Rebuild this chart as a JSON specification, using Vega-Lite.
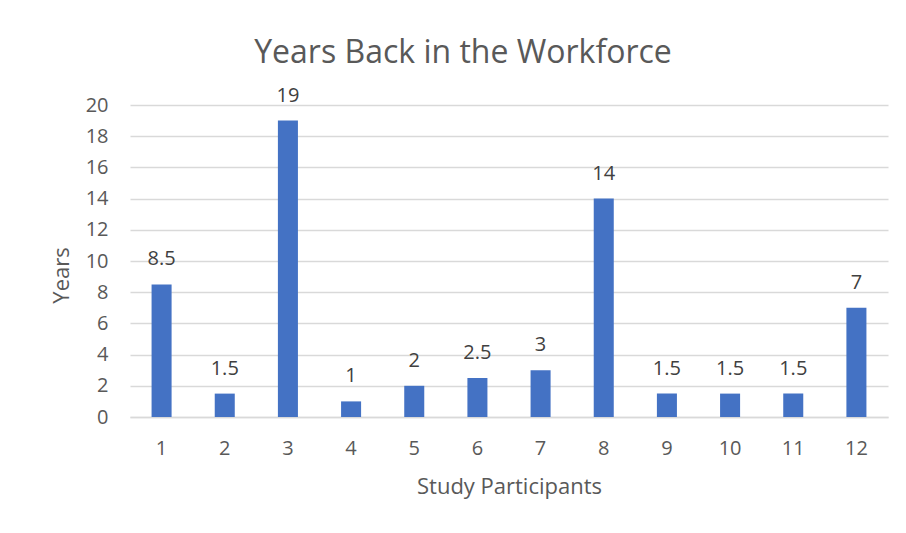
{
  "$schema": "https://vega.github.io/schema/vega-lite/v6.json",
  "width": 758,
  "height": 312,
  "autosize": "none",
  "padding": {"left": 130, "top": 105, "right": 18, "bottom": 116},
  "background": "white",
  "title": {
    "text": "Years Back in the Workforce",
    "font": "Open Sans",
    "fontSize": 32,
    "fontWeight": "normal",
    "color": "#595959",
    "anchor": "middle",
    "dx": -46,
    "baseline": "alphabetic",
    "offset": -9
  },
  "data": {
    "values": [
      {"participant": "1", "years": 8.5},
      {"participant": "2", "years": 1.5},
      {"participant": "3", "years": 19},
      {"participant": "4", "years": 1},
      {"participant": "5", "years": 2},
      {"participant": "6", "years": 2.5},
      {"participant": "7", "years": 3},
      {"participant": "8", "years": 14},
      {"participant": "9", "years": 1.5},
      {"participant": "10", "years": 1.5},
      {"participant": "11", "years": 1.5},
      {"participant": "12", "years": 7}
    ]
  },
  "encoding": {
    "x": {
      "field": "participant",
      "type": "ordinal",
      "sort": null,
      "scale": {"paddingInner": 0.683, "paddingOuter": 0.3415},
      "axis": {
        "title": "Study Participants",
        "titleFont": "Open Sans",
        "titleFontSize": 22,
        "titleFontWeight": "normal",
        "titleColor": "#595959",
        "titlePadding": 18,
        "labelFont": "Open Sans",
        "labelFontSize": 20,
        "labelColor": "#595959",
        "labelAngle": 0,
        "labelPadding": 21,
        "ticks": false,
        "domainColor": "#d9d9d9",
        "domainWidth": 1.5
      }
    },
    "y": {
      "field": "years",
      "type": "quantitative",
      "scale": {"domain": [0, 20], "nice": false},
      "axis": {
        "title": "Years",
        "titleFont": "Open Sans",
        "titleFontSize": 22,
        "titleFontWeight": "normal",
        "titleColor": "#595959",
        "titlePadding": 12,
        "titleY": 170,
        "labelFont": "Open Sans",
        "labelFontSize": 20,
        "labelColor": "#595959",
        "labelPadding": 22,
        "values": [0, 2, 4, 6, 8, 10, 12, 14, 16, 18, 20],
        "ticks": false,
        "domain": false,
        "gridColor": "#d9d9d9",
        "gridWidth": 1.5
      }
    }
  },
  "layer": [
    {"mark": {"type": "bar", "color": "#4472C4"}},
    {
      "mark": {
        "type": "text",
        "font": "Open Sans",
        "fontSize": 20,
        "color": "#404040",
        "baseline": "alphabetic",
        "dy": -19
      },
      "encoding": {"text": {"field": "years", "type": "quantitative"}}
    }
  ],
  "config": {"view": {"stroke": null}}
}
